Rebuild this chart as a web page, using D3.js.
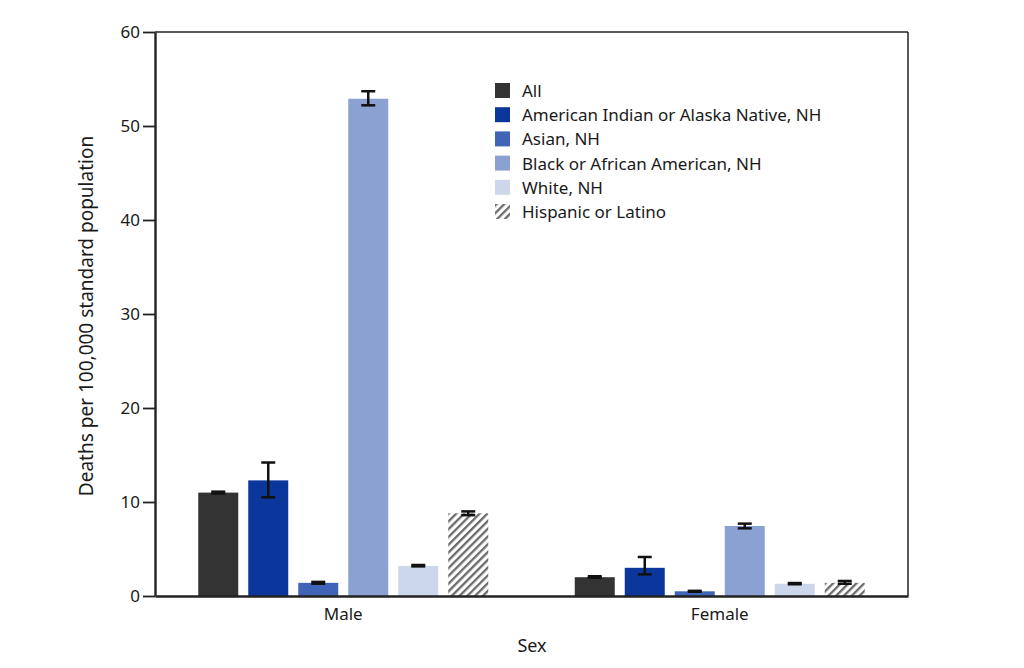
<!DOCTYPE html>
<html><head><meta charset="utf-8">
<script src="https://cdn.jsdelivr.net/npm/d3@7"></script>
<style>body{margin:0;background:#fff}svg{display:block}text{font-family:"Noto Sans",sans-serif;fill:#1a1a1a}</style>
</head><body><svg id="c" width="1024" height="668"></svg>
<script>
const sexes = ["Male", "Female"];
const groups = ["All", "American Indian or Alaska Native, NH", "Asian, NH", "Black or African American, NH", "White, NH", "Hispanic or Latino"];
const maleValues = [11.0, 12.3, 1.4, 52.9, 3.2, 8.8];
const maleLow = [10.9, 10.5, 1.3, 52.2, 3.15, 8.6];
const maleHigh = [11.1, 14.2, 1.5, 53.7, 3.3, 9.0];
const femaleValues = [2.0, 3.0, 0.5, 7.45, 1.3, 1.4];
const femaleLow = [1.95, 2.3, 0.45, 7.2, 1.25, 1.3];
const femaleHigh = [2.1, 4.15, 0.55, 7.7, 1.38, 1.6];
const yTicks = [0, 10, 20, 30, 40, 50, 60];
const colors = ["#333333", "#0b379c", "#4065b8", "#8ba1d2", "#cdd7eb", "url(#hatch)"];

const svg = d3.select("#c");
const L = 155, R = 908, T = 32, B = 596;
const defs = svg.append("defs");
const pat = defs.append("pattern").attr("id", "hatch").attr("patternUnits", "userSpaceOnUse")
  .attr("width", 5.5).attr("height", 5.5).attr("patternTransform", "rotate(45)");
pat.append("rect").attr("width", 5.5).attr("height", 5.5).attr("fill", "#fff");
pat.append("rect").attr("width", 2.3).attr("height", 5.5).attr("fill", "#6b6b6b");

const y = d3.scaleLinear().domain([0, 60]).range([B, T]);
const x0 = d3.scaleBand().domain(sexes).range([L, R]).padding(0);
const x1 = d3.scaleBand().domain(groups).range([0, 290]).paddingInner(0.2).paddingOuter(0);

const data = {
  Male: groups.map((g, i) => ({g, i, v: maleValues[i], lo: maleLow[i], hi: maleHigh[i]})),
  Female: groups.map((g, i) => ({g, i, v: femaleValues[i], lo: femaleLow[i], hi: femaleHigh[i]}))
};

sexes.forEach(s => {
  const gx = x0(s) + x0.bandwidth() / 2 - 145;
  const g = svg.append("g").attr("transform", `translate(${gx},0)`);
  g.selectAll("rect").data(data[s]).join("rect")
    .attr("x", d => x1(d.g)).attr("width", x1.bandwidth())
    .attr("y", d => y(d.v)).attr("height", d => y(0) - y(d.v))
    .attr("fill", d => colors[d.i]);
  const eb = g.selectAll("g.eb").data(data[s]).join("g").attr("class", "eb")
    .attr("transform", d => `translate(${x1(d.g) + x1.bandwidth() / 2},0)`);
  eb.append("line").attr("y1", d => y(d.lo)).attr("y2", d => y(d.hi)).attr("stroke", "#111").attr("stroke-width", 2.5);
  eb.append("line").attr("x1", -7).attr("x2", 7).attr("y1", d => y(d.lo)).attr("y2", d => y(d.lo)).attr("stroke", "#111").attr("stroke-width", 2.5);
  eb.append("line").attr("x1", -7).attr("x2", 7).attr("y1", d => y(d.hi)).attr("y2", d => y(d.hi)).attr("stroke", "#111").attr("stroke-width", 2.5);
});

// frame
svg.append("line").attr("x1", L).attr("x2", R).attr("y1", T).attr("y2", T).attr("stroke", "#222").attr("stroke-width", 1.5);
svg.append("line").attr("x1", R).attr("x2", R).attr("y1", T).attr("y2", B).attr("stroke", "#222").attr("stroke-width", 1.5);

const yAxis = svg.append("g").attr("transform", `translate(${L},0)`)
  .call(d3.axisLeft(y).tickValues(yTicks).tickSize(12).tickPadding(3).tickSizeOuter(0));
yAxis.select(".domain").attr("stroke", "#222").attr("stroke-width", 2.4);
yAxis.selectAll(".tick line").attr("stroke", "#222").attr("stroke-width", 1.8);
yAxis.selectAll(".tick text").style("font-size", "17px").style("font-family", "Noto Sans").attr("fill", "#1a1a1a");

const xAxis = svg.append("g").attr("transform", `translate(0,${B})`)
  .call(d3.axisBottom(x0).tickSize(0).tickPadding(12).tickSizeOuter(0));
xAxis.select(".domain").attr("stroke", "#222").attr("stroke-width", 2.4);
xAxis.selectAll(".tick text").style("font-size", "17px").style("font-family", "Noto Sans").attr("fill", "#1a1a1a");

svg.append("text").attr("transform", `translate(93,${(T + B) / 2 + 2}) rotate(-90)`).attr("text-anchor", "middle")
  .style("font-size", "19px").text("Deaths per 100,000 standard population");
svg.append("text").attr("x", 532).attr("y", 652).attr("text-anchor", "middle").style("font-size", "18px").text("Sex");

const leg = svg.append("g").attr("transform", "translate(495,83)");
const li = leg.selectAll("g").data(groups).join("g").attr("transform", (d, i) => `translate(0,${i * 24.2})`);
li.append("rect").attr("width", 15).attr("height", 15).attr("fill", (d, i) => colors[i]);
li.append("text").attr("x", 27).attr("y", 14).style("font-size", "17px").text(d => d);
</script></body></html>
